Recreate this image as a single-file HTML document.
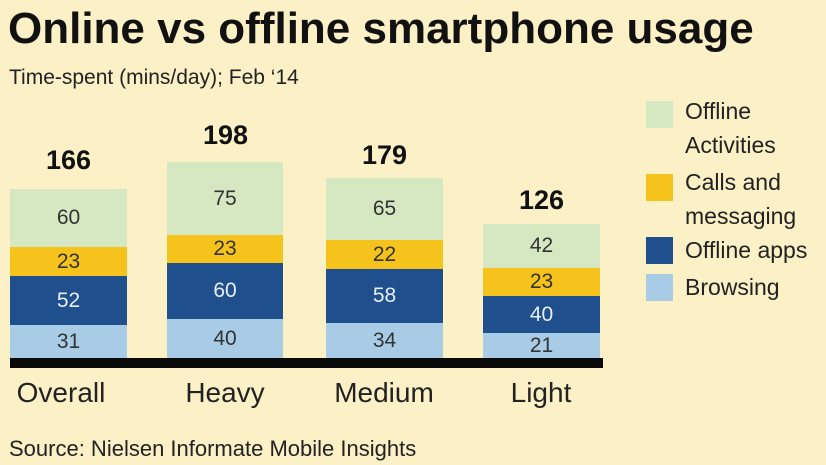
<!DOCTYPE html>
<html><head><meta charset="utf-8"><style>
body{margin:0;width:826px;height:465px;background:#fbf0c6;position:relative;overflow:hidden;font-family:"Liberation Sans Narrow","Liberation Sans",sans-serif;color:#222}
.a{position:absolute;white-space:nowrap}
.seg{position:absolute;text-align:center;font-size:21px;display:flex;align-items:center;justify-content:center}
.g{background:#d5e8c2;color:#333}.y{background:#f6c31c;color:#333}.d{background:#1f4f8d;color:#e8eef5}.l{background:#a8cce6;color:#333}
.tot{position:absolute;font-weight:bold;font-size:27px;text-align:center;width:117px;color:#111}
.cat{position:absolute;font-size:28px;text-align:center;width:160px;top:377px}
.lg{position:absolute;left:646px;width:27px;height:27px}
.lt{position:absolute;left:685px;font-size:23px;line-height:34px}
</style></head><body>
<div class="a" style="left:8px;top:4px;font-size:44px;font-weight:bold;color:#111;letter-spacing:0px">Online vs offline smartphone usage</div>
<div class="a" style="left:9px;top:66px;font-size:21px">Time-spent (mins/day); Feb ‘14</div>

<div class="tot" style="left:10px;top:145px">166</div>
<div class="seg g" style="left:10px;top:189px;width:117px;height:58px">60</div>
<div class="seg y" style="left:10px;top:247px;width:117px;height:29px">23</div>
<div class="seg d" style="left:10px;top:276px;width:117px;height:49px">52</div>
<div class="seg l" style="left:10px;top:325px;width:117px;height:33px">31</div>

<div class="tot" style="left:167px;top:120px">198</div>
<div class="seg g" style="left:167px;top:162px;width:116px;height:73px">75</div>
<div class="seg y" style="left:167px;top:235px;width:116px;height:28px">23</div>
<div class="seg d" style="left:167px;top:263px;width:116px;height:56px">60</div>
<div class="seg l" style="left:167px;top:319px;width:116px;height:39px">40</div>

<div class="tot" style="left:326px;top:140px">179</div>
<div class="seg g" style="left:326px;top:178px;width:117px;height:62px">65</div>
<div class="seg y" style="left:326px;top:240px;width:117px;height:29px">22</div>
<div class="seg d" style="left:326px;top:269px;width:117px;height:54px">58</div>
<div class="seg l" style="left:326px;top:323px;width:117px;height:35px">34</div>

<div class="tot" style="left:483px;top:185px">126</div>
<div class="seg g" style="left:483px;top:224px;width:117px;height:44px">42</div>
<div class="seg y" style="left:483px;top:268px;width:117px;height:28px">23</div>
<div class="seg d" style="left:483px;top:296px;width:117px;height:37px">40</div>
<div class="seg l" style="left:483px;top:333px;width:117px;height:25px">21</div>

<div class="a" style="left:10px;top:358px;width:593px;height:10px;background:#0a0a0a"></div>

<div class="cat" style="left:-19px">Overall</div>
<div class="cat" style="left:145px">Heavy</div>
<div class="cat" style="left:304px">Medium</div>
<div class="cat" style="left:461px">Light</div>

<div class="lg" style="top:101px;background:#d5e8c2"></div>
<div class="lg" style="top:174px;background:#f6c31c"></div>
<div class="lg" style="top:237px;background:#1f4f8d"></div>
<div class="lg" style="top:274px;background:#a8cce6"></div>
<div class="lt" style="top:94px">Offline</div>
<div class="lt" style="top:128px">Activities</div>
<div class="lt" style="top:165px">Calls and</div>
<div class="lt" style="top:199px">messaging</div>
<div class="lt" style="top:233px">Offline apps</div>
<div class="lt" style="top:270px">Browsing</div>

<div class="a" style="left:9px;top:436px;font-size:22px">Source: Nielsen Informate Mobile Insights</div>
</body></html>
